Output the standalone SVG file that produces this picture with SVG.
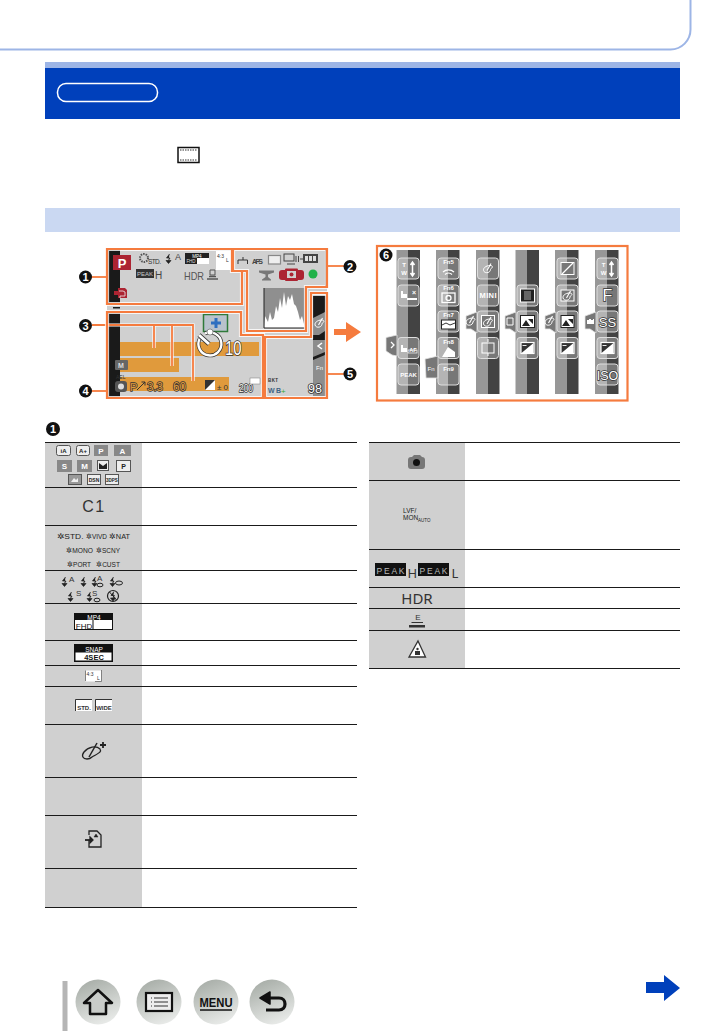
<svg xmlns="http://www.w3.org/2000/svg" width="726" height="1032" viewBox="0 0 726 1032">
<defs>
<style>
text{font-family:"Liberation Sans",Arial,sans-serif}
.o{fill:none;stroke:#f57b3e;stroke-width:2.2}
.h{fill:none;stroke:#fff;stroke-width:4.2}
.l{fill:none;stroke:#f57b3e;stroke-width:1.8}
.lh{fill:none;stroke:#fff;stroke-width:3.2}
.line{stroke:#1a1a1a;stroke-width:1.2;fill:none}
.numt{fill:#fff;font-size:11px;font-weight:bold;text-anchor:middle}
.tab{fill:#777;stroke:#e4e4e4;stroke-width:.8}
.wt{fill:#fff;text-anchor:middle}
.ws{fill:#fff;stroke:#333;stroke-width:1.500;paint-order:stroke;text-anchor:middle}
.wm{fill:#fff;stroke:#333;stroke-width:1.600;paint-order:stroke}
.om{fill:#e09a3c;stroke:#333;stroke-width:1.400;paint-order:stroke}
.ik{fill:none;stroke:#fff;stroke-width:1.3}
.tk{fill:#222;font-size:7.500px;text-anchor:middle}
.lg{fill:#333;font-size:8px}
.fl{fill:none;stroke:#222;stroke-width:1}
.ns{font-family:"Noto Sans","Liberation Sans",sans-serif}
</style>
<linearGradient id="nav" x1="0.2" y1="0" x2="0.6" y2="1"><stop offset="0" stop-color="#a6aca6"/><stop offset="1" stop-color="#e8eae8"/></linearGradient>
<linearGradient id="st1" x1="0" y1="0" x2="1" y2="0"><stop offset=".5" stop-color="#979797"/><stop offset=".5" stop-color="#434343"/></linearGradient>
<rect id="btn" x="-10.500" y="-10.500" width="21" height="21" rx="3" fill="#fff" fill-opacity=".28" stroke="#dedede" stroke-width="1"/>
<rect id="strip" x="0" y="0" width="23.500" height="144" fill="url(#st1)"/>
<path id="flash" d="M3.500 0L0.500 4H4L2.500 6.500M0 6.500H5L2.500 9.500Z" fill="#222" stroke="#222" stroke-width=".7"/>
<g id="pal"><path d="M-4 3C-6 0 -2 -3 2 -3C5 -3 5 -1 3 0C2 1 3 3 0 4C-2 4.500 -3 4 -4 3Z" fill="none" stroke="#fff" stroke-width="1"/><path d="M-1 2L3 -5" stroke="#fff" stroke-width="1.100"/></g>
<g id="ev"><rect x="-6.500" y="-5.500" width="13" height="11" fill="#333" stroke="#fff" stroke-width="1.200"/><path d="M-6 5L6 -5V5Z" fill="#fff"/><path d="M-5 -2.500H-1M1 3H5" stroke="#fff" stroke-width=".9"/></g>
<path id="hand" d="M0 0H2V3H6V7H0Z" fill="#fff"/>
</defs>

<g id="page-frame"><path d="M0 49.500H670A20 20 0 0 0 690.500 29V0" fill="none" stroke="#9db5e6" stroke-width="2"/></g>

<g id="header">
<rect x="45" y="62" width="635" height="57" fill="#0040bb"/>
<rect x="45" y="62" width="635" height="6" fill="#9db5e6"/>
<rect x="57.500" y="83.500" width="100" height="18" rx="8.500" fill="none" stroke="#fff" stroke-width="1.500"/>
</g>
<g id="film-icon"><rect x="178" y="147.500" width="21" height="15" fill="#fff" stroke="#111" stroke-width="1.500"/><path d="M180 150H197M180 160H197" stroke="#333" stroke-width="1.200" stroke-dasharray="1.500 1"/></g>
<g id="section-bar"><rect x="45" y="208" width="635" height="24" fill="#cad8f2"/></g>

<g id="monitor">
<rect x="107" y="250" width="220" height="147" fill="#d0d0d0"/>
<rect x="107" y="250" width="13" height="53" fill="#1a1a1a"/>
<rect x="107" y="312" width="13" height="85" fill="#1a1a1a"/>
<rect x="113" y="307" width="7" height="1.500" fill="#1a1a1a"/>
<rect x="325" y="250" width="3" height="37" fill="#1a1a1a"/>
<rect x="313" y="296" width="13" height="100" fill="#1a1a1a"/>
<path d="M313 318L325 312V331L319 335H313ZM313 340H325V352L313 357ZM313 360L325 355V396H313Z" fill="#8d8d8d"/>
<use href="#pal" x="319.500" y="323"/>
<path d="M322 343L318 346L322 349" fill="none" stroke="#fff" stroke-width="1.500"/>
<text x="319.500" y="370" font-size="6" fill="#fff" text-anchor="middle">Fn</text>
<rect x="120" y="342" width="139" height="14" fill="#e09a3c"/>
<rect x="120" y="358" width="59" height="14" fill="#e09a3c"/>
<rect x="120" y="377" width="109" height="14" fill="#e09a3c"/>

<rect x="113" y="255" width="18" height="15" fill="#ac2432"/>
<text x="122" y="267.500" font-size="13" font-weight="bold" fill="#fff" text-anchor="middle">P</text>
<path d="M114 291H118V288H125L127 290V298H118V295H114Z" fill="#ac2432"/>
<path d="M119 291H123L125 292V296H120V298" fill="none" stroke="#eee" stroke-width=".8"/>
<text x="148" y="264" font-size="6.500" fill="#333" textLength="13">STD.</text>
<circle cx="144" cy="258" r="4" fill="none" stroke="#555" stroke-width="2" stroke-dasharray="1.500 1"/>
<use href="#flash" x="166" y="254"/>
<text x="175" y="260" font-size="9" fill="#444">A</text>
<rect x="185" y="253" width="24" height="11" fill="#fff"/><rect x="185" y="253" width="24" height="5" fill="#222"/><rect x="185" y="258" width="12" height="6" fill="#222"/>
<text x="197" y="257.500" font-size="4.500" fill="#fff" text-anchor="middle">MP4</text>
<text x="191" y="263" font-size="4.500" fill="#ddd" text-anchor="middle">FHD</text>
<rect x="216" y="251" width="15" height="19" fill="#fff"/>
<text x="217" y="258" font-size="5" fill="#333">4:3</text><text x="226" y="262" font-size="5" fill="#333">L</text>
<rect x="136" y="269" width="18" height="9" fill="#333"/>
<text x="145" y="276" font-size="6" fill="#ccc" text-anchor="middle">PEAK</text>
<text x="155" y="278.500" font-size="10" fill="#444">H</text>
<text x="184" y="279.500" font-size="10.500" fill="#555" textLength="20" lengthAdjust="spacingAndGlyphs">HDR</text>
<path d="M207 279H218M209 276.500H216" stroke="#555" stroke-width="1.600" fill="none"/><path d="M210 270H215V275H210Z" fill="none" stroke="#555"/>

<path d="M238 264V260h9.500v4M243 260v-3" stroke="#333" fill="none"/>
<text x="252" y="264" font-size="7" font-weight="bold" fill="#444" textLength="11">AFS</text>
<rect x="268.500" y="255.500" width="12" height="8.500" fill="#eee" stroke="#888" stroke-width="1.200"/>
<rect x="284" y="254" width="10" height="7" fill="none" stroke="#444"/><path d="M287 264h8" stroke="#444"/>
<path d="M296 256v6M298.500 256v6M300 259h3" stroke="#444"/>
<rect x="303" y="254" width="15" height="9" fill="#444"/><rect x="305" y="256" width="3" height="5" fill="#ddd"/><rect x="309" y="256" width="3" height="5" fill="#ddd"/><rect x="313" y="256" width="3" height="5" fill="#ddd"/>
<path d="M259 270.500H274V272.500L268 274.500V277L271 279.500V280.500H262V279.500L265.500 277V274.500L259 272.500Z" fill="#777"/>
<rect x="279" y="270" width="25" height="10" rx="3" fill="#ac2432"/><rect x="285" y="268.500" width="13" height="12.500" rx="1" fill="#ac2432"/><rect x="287" y="271" width="9" height="7" fill="#d0d0d0"/><circle cx="291.500" cy="274.500" r="2" fill="#ac2432"/>
<circle cx="313" cy="274" r="4.500" fill="#22b24a"/>
<rect x="264" y="288" width="41" height="40" fill="#8f8f8f"/>
<path d="M264 328L265 316L268 322L270 312L272 320L274 318L276 306L278 312L280 298L282 308L284 292L286 306L288 296L290 300L292 294L294 304L296 306L298 312L300 320L302 316L304 324L305 328Z" fill="#fff"/>
<path d="M264 288V328H305" fill="none" stroke="#222" stroke-width="1"/>
<rect x="203.500" y="314.500" width="24" height="17" fill="#b9c2cc" stroke="#2f7a3a" stroke-width="1.500"/>
<path d="M216 318v10M211 323h10" stroke="#2f6fc0" stroke-width="3"/>
<path d="M205 333.500A11.500 11.500 0 1 1 199.500 339" fill="none" stroke="#333" stroke-width="3.800"/>
<path d="M205 333.500A11.500 11.500 0 1 1 199.500 339" fill="none" stroke="#fff" stroke-width="2.400"/>
<path d="M199 335L209 344" stroke="#333" stroke-width="4.400"/>
<path d="M199 335L209 344" stroke="#fff" stroke-width="3"/>
<circle cx="210" cy="332" r="3" fill="#fff" stroke="#555" stroke-width=".6"/>
<text class="wm" x="225" y="355" font-size="20" textLength="16.500" lengthAdjust="spacingAndGlyphs">10</text>
<rect x="115" y="360" width="13" height="10" rx="1" fill="#666"/><text x="121" y="368" font-size="7" fill="#ddd" text-anchor="middle" font-weight="bold">M</text>
<text x="116" y="379" font-size="5" fill="#333">AEL</text>
<rect x="115" y="381" width="12" height="11" rx="3" fill="#555"/><circle cx="121" cy="386.500" r="3" fill="#ddd"/>
<text class="om" x="130" y="391" font-size="11">P</text>
<path d="M137 390L145 382M141.500 382H145V385.500" stroke="#333" fill="none"/>
<text class="om" x="147" y="391" font-size="12" textLength="16" lengthAdjust="spacingAndGlyphs">3.3</text>
<text class="om" x="173" y="391" font-size="12" textLength="13" lengthAdjust="spacingAndGlyphs">60</text>
<rect x="205" y="380" width="10" height="10" fill="#333"/><path d="M205 390L215 380V390Z" fill="#fff"/>
<text x="217" y="390" font-size="8" fill="#333" textLength="11">±0</text>
<text class="wm" x="239" y="392" font-size="10.500" stroke-width="1.200" textLength="14" lengthAdjust="spacingAndGlyphs">200</text>
<rect x="250" y="378" width="10" height="6" fill="#fff" stroke="#777" stroke-width=".5"/>
<text x="268" y="382" font-size="4.500" fill="#333" font-weight="bold" textLength="10">BKT</text>
<text x="268" y="393" font-size="7" fill="#3f6484" font-weight="bold" textLength="13">WB</text><text x="281" y="394" font-size="8" fill="#3a3">+</text>
<text class="wm" x="308" y="393" font-size="12.500" textLength="14" lengthAdjust="spacingAndGlyphs">98</text>
</g>

<g id="connectors">
<path class="lh" d="M92 325H193V381M154 325V348M172 325V366"/>
<path class="l" d="M92 325H193V381M154 325V348M172 325V366"/>
<path class="h" d="M107 249H232V271H242V304H107ZM233 249H327V287H306V331H247V271H233ZM107 312H241V335H263V398H107ZM311 293H327V398H265V337H311Z" stroke-opacity=".8"/>
<path class="o" d="M107 249H232V271H242V304H107Z"/>
<path class="o" d="M233 249H327V287H306V331H247V271H233Z"/>
<path class="o" d="M107 312H241V335H263V398H107Z"/>
<path class="o" d="M311 293H327V398H265V337H311Z"/>
<path class="l" d="M91 277H106"/>
<path class="l" d="M328 266H344"/>
<path class="l" d="M91 391H106"/>
<path class="l" d="M328 374H344"/>
<path d="M334 329H346V322L361 332L346 342V335H334Z" fill="#f57b3e"/>
</g>

<g id="n1"><circle cx="85.500" cy="277" r="6.500" fill="#111"/><text class="numt" x="85.500" y="281">1</text></g>
<g id="n2"><circle cx="350" cy="266.500" r="6.500" fill="#111"/><text class="numt" x="350" y="270.500">2</text></g>
<g id="n3"><circle cx="85.500" cy="325.500" r="6.500" fill="#111"/><text class="numt" x="85.500" y="329.500">3</text></g>
<g id="n4"><circle cx="85.500" cy="391" r="6.500" fill="#111"/><text class="numt" x="85.500" y="395">4</text></g>
<g id="n5"><circle cx="350" cy="374" r="6.500" fill="#111"/><text class="numt" x="350" y="378">5</text></g>

<g id="panel6">
<rect x="377" y="246" width="250.500" height="154.500" fill="#fff" stroke="#f57b3e" stroke-width="2.200"/>
<circle cx="386" cy="255" r="6.500" fill="#111"/><text class="numt" x="386" y="259">6</text>
<use href="#strip" x="396.500" y="250"/><use href="#strip" x="436" y="250"/><use href="#strip" x="476" y="250"/><use href="#strip" x="515.500" y="250"/><use href="#strip" x="555" y="250"/><use href="#strip" x="595" y="250"/>
<path class="tab" d="M386 337.500L397 335V356L392 355L386 351Z"/>
<path d="M391 342L394 345L391 348" fill="none" stroke="#fff" stroke-width="1.300"/>
<path class="tab" d="M425 359L438 356V378H426Z"/>
<text class="wt" x="431" y="371" font-size="6">Fn</text>
<path class="tab" d="M466 316L477 312V333L471 329H466Z"/><use href="#pal" x="470.500" y="321"/>
<path class="tab" d="M505 316L516 312V333L510 329H505Z"/><path d="M507 318H513V325H507Z" fill="none" stroke="#fff"/>
<path class="tab" d="M545 316L556 312V333L550 329H545Z"/><use href="#pal" x="549.500" y="321"/>
<path class="tab" d="M585 316L596 312V333L590 329H585Z"/><path d="M587 324V320H589V319H591V320H593V319H594V324Z" fill="#fff"/>
<use href="#btn" x="408.500" y="268.500"/><use href="#btn" x="408.500" y="295.500"/><use href="#btn" x="408.500" y="348"/><use href="#btn" x="408.500" y="374.500"/>
<use href="#btn" x="448.500" y="268.500"/><use href="#btn" x="448.500" y="295.500"/><use href="#btn" x="448.500" y="321.500"/><use href="#btn" x="448.500" y="348"/><use href="#btn" x="448.500" y="374.500"/>
<use href="#btn" x="488" y="268.500"/><use href="#btn" x="488" y="295.500"/><use href="#btn" x="488" y="321.500"/><use href="#btn" x="488" y="348"/>
<use href="#btn" x="527.500" y="295.500"/><use href="#btn" x="527.500" y="321.500"/><use href="#btn" x="527.500" y="348"/>
<use href="#btn" x="567.500" y="268.500"/><use href="#btn" x="567.500" y="295.500"/><use href="#btn" x="567.500" y="321.500"/><use href="#btn" x="567.500" y="348"/>
<use href="#btn" x="607.500" y="268.500"/><use href="#btn" x="607.500" y="295.500"/><use href="#btn" x="607.500" y="321.500"/><use href="#btn" x="607.500" y="348"/><use href="#btn" x="607.500" y="374.500"/>
<g font-size="6" font-weight="bold">
<text class="wt" x="404" y="267">T</text><text class="wt" x="404" y="274.500">W</text>
<text class="wt" x="603.500" y="267">T</text><text class="wt" x="603.500" y="274.500">W</text>
<text class="wt" x="448.500" y="264">Fn5</text><text class="wt" x="448.500" y="290">Fn6</text><text class="wt" x="448.500" y="317">Fn7</text><text class="wt" x="448.500" y="344">Fn8</text><text class="wt" x="448.500" y="371">Fn9</text>
<text class="wt" x="408.500" y="377" font-size="6">PEAK</text>
<text class="wt" x="414" y="295" font-size="7">×</text>
<text class="wt" x="413" y="352" font-size="5.500">AF</text>
</g>
<text class="wt" x="488" y="298" font-size="7.500" font-weight="bold" textLength="17">MINI</text>
<text class="ws" x="607.500" y="301" font-size="16">F</text>
<text class="ws" x="607.500" y="327" font-size="13">SS</text>
<text class="ws" x="607.500" y="380" font-size="12.500">ISO</text>
<g class="ik">
<path d="M412.500 263V275M410.500 265L412.500 262L414.500 265M410.500 273L412.500 276L414.500 273M611.500 263V275M609.500 265L611.500 262L613.500 265M609.500 273L611.500 276L613.500 273" stroke-width="1.500"/>
<path d="M443 272a8 8 0 0 1 11 0M445 274.500a5 5 0 0 1 7 0" />
<rect x="442" y="293" width="13" height="9.500"/>
<circle cx="448.500" cy="298" r="2.500"/>
</g>
<use href="#hand" x="401" y="291"/><rect x="407" y="298" width="10" height="2" fill="#fff"/>
<use href="#hand" x="401" y="345"/><rect x="408" y="350" width="9" height="3" fill="none" stroke="#fff" stroke-width=".7"/>
<rect x="441.500" y="320" width="14" height="9" fill="#fff" stroke="#222"/><path d="M442 325L446 323L450 325L455 323" stroke="#333" fill="none"/>
<path d="M442 357H455V352L448 347L445 352Z" fill="#fff"/>
<use href="#pal" x="488" y="268.500"/>
<rect x="481.500" y="315.500" width="13" height="12" fill="#777" stroke="#fff"/><use href="#pal" x="488" y="322"/>
<rect x="482" y="343" width="12" height="10" fill="none" stroke="#fff"/><path d="M488 339v3M488 353v3" stroke="#fff"/>
<rect x="520.500" y="289" width="14" height="13" fill="#222" stroke="#fff"/><rect x="524" y="291" width="7" height="9" fill="#666"/>
<rect x="520.500" y="315.500" width="14" height="12" fill="#fff" stroke="#222"/><path d="M522 326L526 320L530 326ZM528 319H533V324Z" fill="#222"/>
<use href="#ev" x="527.500" y="348"/>
<rect x="561" y="262.500" width="13" height="12" fill="#777" stroke="#fff"/><path d="M562 274L573 263" stroke="#fff" stroke-width="1.300"/>
<rect x="561" y="290" width="13" height="11" fill="#777" stroke="#fff"/><use href="#pal" x="567.500" y="296"/>
<rect x="561" y="315.500" width="13" height="12" fill="#fff" stroke="#222"/><path d="M562 326L566 320L570 326ZM568 319H573V324Z" fill="#222"/>
<use href="#ev" x="567.500" y="348"/>
<use href="#ev" x="607.500" y="348"/>
</g>

<g id="table-left-title"><circle cx="53" cy="429" r="7" fill="#111"/><text class="numt" x="53" y="433">1</text></g>

<g id="table-left">
<rect x="45" y="442" width="97" height="465" fill="#d0d0d0"/>
<path class="line" d="M45 442.500H357M45 487.500H357M45 525.500H357M45 570.500H357M45 603.500H357M45 640.500H357M45 665.500H357M45 686.500H357M45 724.500H357M45 777.500H357M45 815.500H357M45 868.500H357M45 907.500H357"/>
<g id="row1">
<g fill="#888"><rect x="94" y="445" width="14" height="11"/><rect x="114" y="445" width="17" height="11"/><rect x="57" y="460" width="15" height="12"/><rect x="77" y="460" width="15" height="12"/></g>
<g fill="#eee" stroke="#555" stroke-width="1"><rect x="56.500" y="445.500" width="14" height="10" rx="2"/><rect x="76.500" y="445.500" width="13" height="10" rx="2"/><rect x="97.500" y="460.500" width="11" height="10"/><rect x="116.500" y="460.500" width="14" height="11"/><rect x="68.500" y="474.500" width="13" height="10" fill="#999"/><rect x="87.500" y="474.500" width="13" height="10"/><rect x="105.500" y="474.500" width="13" height="10"/></g>
<g font-size="8" font-weight="bold" fill="#fff" text-anchor="middle"><text x="101" y="453.500">P</text><text x="122.500" y="453.500">A</text><text x="64.500" y="469">S</text><text x="84.500" y="469">M</text></g>
<g font-size="6" font-weight="bold" fill="#222" text-anchor="middle"><text x="63.500" y="453">iA</text><text x="83" y="453">A+</text><text x="123.500" y="469" font-size="7">P</text><text x="94" y="482" font-size="5">DSN</text><text x="112" y="482" font-size="4.500">3DPS</text></g>
<path d="M99 469V463L103 466L107 463V469Z" fill="#222"/>
<path d="M71 482L74 478L76 480L78 478V482Z" fill="#eee"/>
</g>
<text x="94" y="512" font-size="16" fill="#333" text-anchor="middle" letter-spacing="1.500">C1</text>
<g>
<text class="tk" x="70" y="539" textLength="27" lengthAdjust="spacingAndGlyphs">✲STD.</text><text class="tk" x="96.500" y="539" textLength="21" lengthAdjust="spacingAndGlyphs">✲VIVD</text><text class="tk" x="119.500" y="539" textLength="21" lengthAdjust="spacingAndGlyphs">✲NAT</text>
<text class="tk" x="79.500" y="553" textLength="27" lengthAdjust="spacingAndGlyphs">✲MONO</text><text class="tk" x="108" y="553" textLength="24" lengthAdjust="spacingAndGlyphs">✲SCNY</text>
<text class="tk" x="79" y="567" textLength="24" lengthAdjust="spacingAndGlyphs">✲PORT</text><text class="tk" x="108" y="567" textLength="24" lengthAdjust="spacingAndGlyphs">✲CUST</text>
</g>
<g>
<use href="#flash" x="62" y="577"/><text class="lg" x="69" y="582">A</text>
<use href="#flash" x="81" y="577"/>
<use href="#flash" x="92" y="577"/><text class="lg" x="97" y="581" font-size="7">A</text><ellipse cx="100" cy="585" rx="3" ry="1.800" class="fl"/>
<use href="#flash" x="110" y="577"/><ellipse cx="119" cy="583" rx="3.500" ry="2" class="fl"/>
<use href="#flash" x="68" y="592"/><text class="lg" x="76" y="596" font-size="7">S</text>
<use href="#flash" x="87" y="592"/><text class="lg" x="92" y="596" font-size="7">S</text><ellipse cx="97" cy="600" rx="3" ry="1.800" class="fl"/>
<circle cx="113" cy="596" r="5.500" fill="none" stroke="#222" stroke-width="1.200"/><path d="M109.500 592L116.500 600" stroke="#222"/><use href="#flash" x="110.500" y="591.500"/>
</g>
<g><rect x="74.500" y="613.500" width="38" height="16" fill="#fff" stroke="#111" stroke-width="1"/><rect x="74" y="613" width="39" height="7" fill="#111"/><path d="M93 620V630" stroke="#111"/>
<text x="94" y="619.500" font-size="6.500" fill="#fff" text-anchor="middle">MP4</text><text x="84" y="628.500" font-size="8" fill="#111" text-anchor="middle">FHD</text></g>
<g><rect x="74" y="644" width="39" height="18" fill="#111"/><rect x="75.500" y="652.500" width="36" height="8" fill="#fff"/>
<text x="94" y="651.500" font-size="6.500" fill="#fff" text-anchor="middle">SNAP</text><text x="94" y="660" font-size="7.500" fill="#111" font-weight="bold" text-anchor="middle">4SEC</text></g>
<g><rect x="85.500" y="670.500" width="16" height="11" fill="#fff"/><path d="M85.500 681V670.500M101.500 670V681.500H95" fill="none" stroke="#666" stroke-width=".8"/><text x="90" y="676" font-size="5" fill="#333" text-anchor="middle">4:3</text><text x="98.500" y="680" font-size="5" fill="#333" text-anchor="middle">L</text></g>
<g><rect x="75" y="700" width="17" height="11" fill="#fff"/><rect x="95" y="700" width="17" height="11" fill="#fff"/><path d="M75.500 711V699.500H92M95.500 711V699.500H112" fill="none" stroke="#333"/>
<text x="84" y="710" font-size="6" font-weight="bold" fill="#333" text-anchor="middle">STD.</text><text x="104" y="710" font-size="6" font-weight="bold" fill="#333" text-anchor="middle">WIDE</text></g>
<g fill="none" stroke="#222" stroke-width="1.300"><path d="M92 757C99 753 102 752 100 749C96 745 88 747 84 752C81 756 83 759 87 759Q90 759 92 757Z"/><path d="M89 757L97 743" stroke-width="1.500"/><path d="M100 745h6M103 742v6" stroke-width="1.800"/></g>
<g fill="none" stroke="#222" stroke-width="1.300"><path d="M89 840V847H101V835L97 831H89V835"/><path d="M85 840H92" stroke-width="1.800"/><path d="M90 837L93 840L90 843Z" fill="#222"/><path d="M96 834L94 837H98Z" stroke-width=".5" fill="#222"/></g>
</g>

<g id="table-right">
<rect x="369" y="442" width="96" height="226" fill="#d0d0d0"/>
<path class="line" d="M369 442.500H680M369 480.500H680M369 549.500H680M369 587.500H680M369 608.500H680M369 630.500H680M369 668.500H680"/>
<g><rect x="408" y="457" width="17" height="12" rx="3" fill="#777"/><path d="M412 457L414 455H420L422 457Z" fill="#777"/><circle cx="416.500" cy="462.500" r="3.500" fill="#111"/></g>
<g font-size="6.500" fill="#222"><text x="403" y="513">LVF/</text><text x="403" y="520">MON</text><text x="418" y="522" font-size="4.500">AUTO</text></g>
<g><rect x="375" y="563" width="31" height="13" fill="#111"/><text x="390.500" y="573.500" font-size="8.500" fill="#bbb" text-anchor="middle" textLength="28">PEAK</text><text class="ns" x="407.500" y="578" font-size="13" fill="#333">H</text><rect x="418" y="563" width="31" height="13" fill="#111"/><text x="433.500" y="573.500" font-size="8.500" fill="#bbb" text-anchor="middle" textLength="28">PEAK</text><text class="ns" x="451.500" y="578" font-size="13" fill="#333">L</text></g>
<text class="ns" x="417" y="604" font-size="15" fill="#333" text-anchor="middle">HDR</text>
<g><text x="418" y="620" font-size="8" fill="#333" text-anchor="middle">E</text><path d="M411.500 622.500H423" stroke="#333"/><rect x="409" y="625" width="16" height="2.500" fill="#333"/></g>
<g><path d="M418 641L425.500 657H409Z" fill="#fff" stroke="#333" stroke-width="1.300"/><rect x="415" y="651" width="5" height="4" fill="#333"/><circle cx="417.500" cy="649" r="1.200" fill="#333"/></g>
</g>

<g id="nav-bar"><rect x="62.500" y="981" width="5" height="50" fill="#b5b5b5"/></g>
<g id="nav-home"><circle cx="98" cy="1002" r="22.500" fill="url(#nav)"/><path d="M98 990L112 1003H106V1014H90V1003H84Z" fill="#c9ccc9" stroke="#111" stroke-width="2.500" stroke-linejoin="round"/></g>
<g id="nav-list"><circle cx="159" cy="1002" r="22.500" fill="url(#nav)"/><rect x="146" y="993" width="26" height="18" fill="#eee" stroke="#111" stroke-width="2.200"/><path d="M151 998h1M154 998h14M151 1002h1M154 1002h14M151 1006h1M154 1006h14" stroke="#333" stroke-width="1.200"/></g>
<g id="nav-menu"><circle cx="216" cy="1002" r="22.500" fill="url(#nav)"/><text x="216" y="1007" font-size="13" font-weight="bold" fill="#111" text-anchor="middle" textLength="33" lengthAdjust="spacingAndGlyphs">MENU</text><path d="M200 1010H232" stroke="#111" stroke-width="1.500"/></g>
<g id="nav-back"><circle cx="272" cy="1002" r="22.500" fill="url(#nav)"/><path d="M270 992L260 998L270 1004Z" fill="#111" stroke="#111" stroke-width="1.500" stroke-linejoin="round"/><path d="M266 998H279C287 998 287 1010 279 1010H266" fill="none" stroke="#111" stroke-width="3.200"/></g>
<g id="next-arrow"><path d="M646 982H664V975L680 988L664 1001V993H646Z" fill="#0040bb"/></g>
</svg>
